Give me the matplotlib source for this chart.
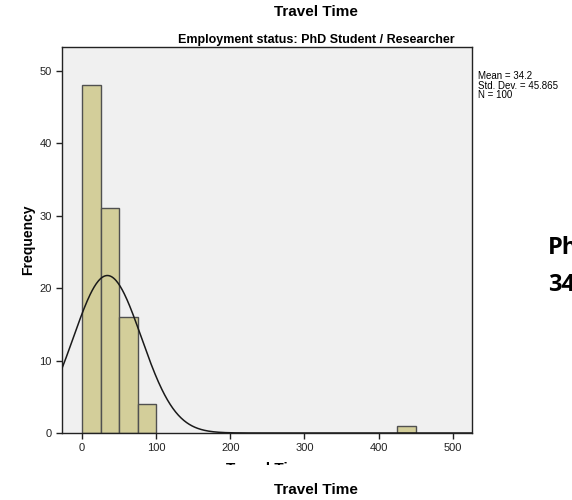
import matplotlib
matplotlib.use("Agg")
import matplotlib.pyplot as plt
import numpy as np
from matplotlib.patches import Rectangle

# histogram bins (width 25) and counts
bin_left = [0, 25, 50, 75, 425]
counts = [48, 31, 16, 4, 1]
BIN_W = 25
MEAN = 34.2
SD = 45.865
N = 100

x_ticks = [0, 100, 200, 300, 400, 500]
y_ticks = [0, 10, 20, 30, 40, 50]

BAR = "#d3ce9a"
EDGE = "#505050"
PANEL = "#f0f0f0"

plt.rcParams["font.family"] = ["Liberation Sans", "DejaVu Sans"]

fig = plt.figure(figsize=(5.72, 5.0), dpi=100)
ax = fig.add_axes([62 / 572, 1 - 433 / 500, 410 / 572, 386 / 500])
ax.set_facecolor(PANEL)

ax.bar(bin_left, counts, width=BIN_W, align="edge", color=BAR,
       edgecolor=EDGE, linewidth=1.0, zorder=2)

# fitted normal curve scaled to counts
xs = np.linspace(-27, 526, 600)
ys = N * BIN_W * np.exp(-0.5 * ((xs - MEAN) / SD) ** 2) / (SD * np.sqrt(2 * np.pi))
ax.plot(xs, ys, color="#1a1a1a", lw=1.1, zorder=3)

ax.set_xlim(-27, 526)
ax.set_ylim(0, 53.3)
ax.set_xticks(x_ticks)
ax.set_yticks(y_ticks)
ax.tick_params(labelsize=8, length=4, width=1, color="#222222", labelcolor="#222222")
for s in ax.spines.values():
    s.set_color("#222222")
    s.set_linewidth(1)

ax.set_ylabel("Frequency", fontsize=10, fontweight="bold", labelpad=3)

fig.text(316 / 572, 1 - 12 / 500, "Travel Time", ha="center", va="center",
         fontsize=11, fontweight="bold")
fig.text(316 / 572, 1 - 40 / 500, "Employment status: PhD Student / Researcher",
         ha="center", va="center", fontsize=9, fontweight="bold")

fig.text(478 / 572, 1 - 71 / 500, "Mean = 34.2\nStd. Dev. = 45.865\nN = 100",
         ha="left", va="top", fontsize=7, linespacing=0.95)

fig.text(316 / 572, 1 - 490 / 500, "Travel Time", ha="center", va="center",
         fontsize=11, fontweight="bold")

# partially hidden duplicate axis title, only its top edge shows
fig.text(268 / 572, 1 - 462 / 500, "Travel Time", ha="center", va="top",
         fontsize=11, fontweight="bold", zorder=1)
fig.patches.append(Rectangle((200 / 572, 1 - 482 / 500), 140 / 572, 17.5 / 500,
                             transform=fig.transFigure, facecolor="white",
                             edgecolor="none", zorder=2))

fig.text(548 / 572, 1 - 248 / 500, "PhD", ha="left", va="center",
         fontsize=17, fontweight="bold", family=["Open Sans", "DejaVu Sans"])
fig.text(548 / 572, 1 - 285 / 500, "34.2", ha="left", va="center",
         fontsize=17, fontweight="bold", family=["Open Sans", "DejaVu Sans"])

fig.savefig("out.png", dpi=100, facecolor="white")
